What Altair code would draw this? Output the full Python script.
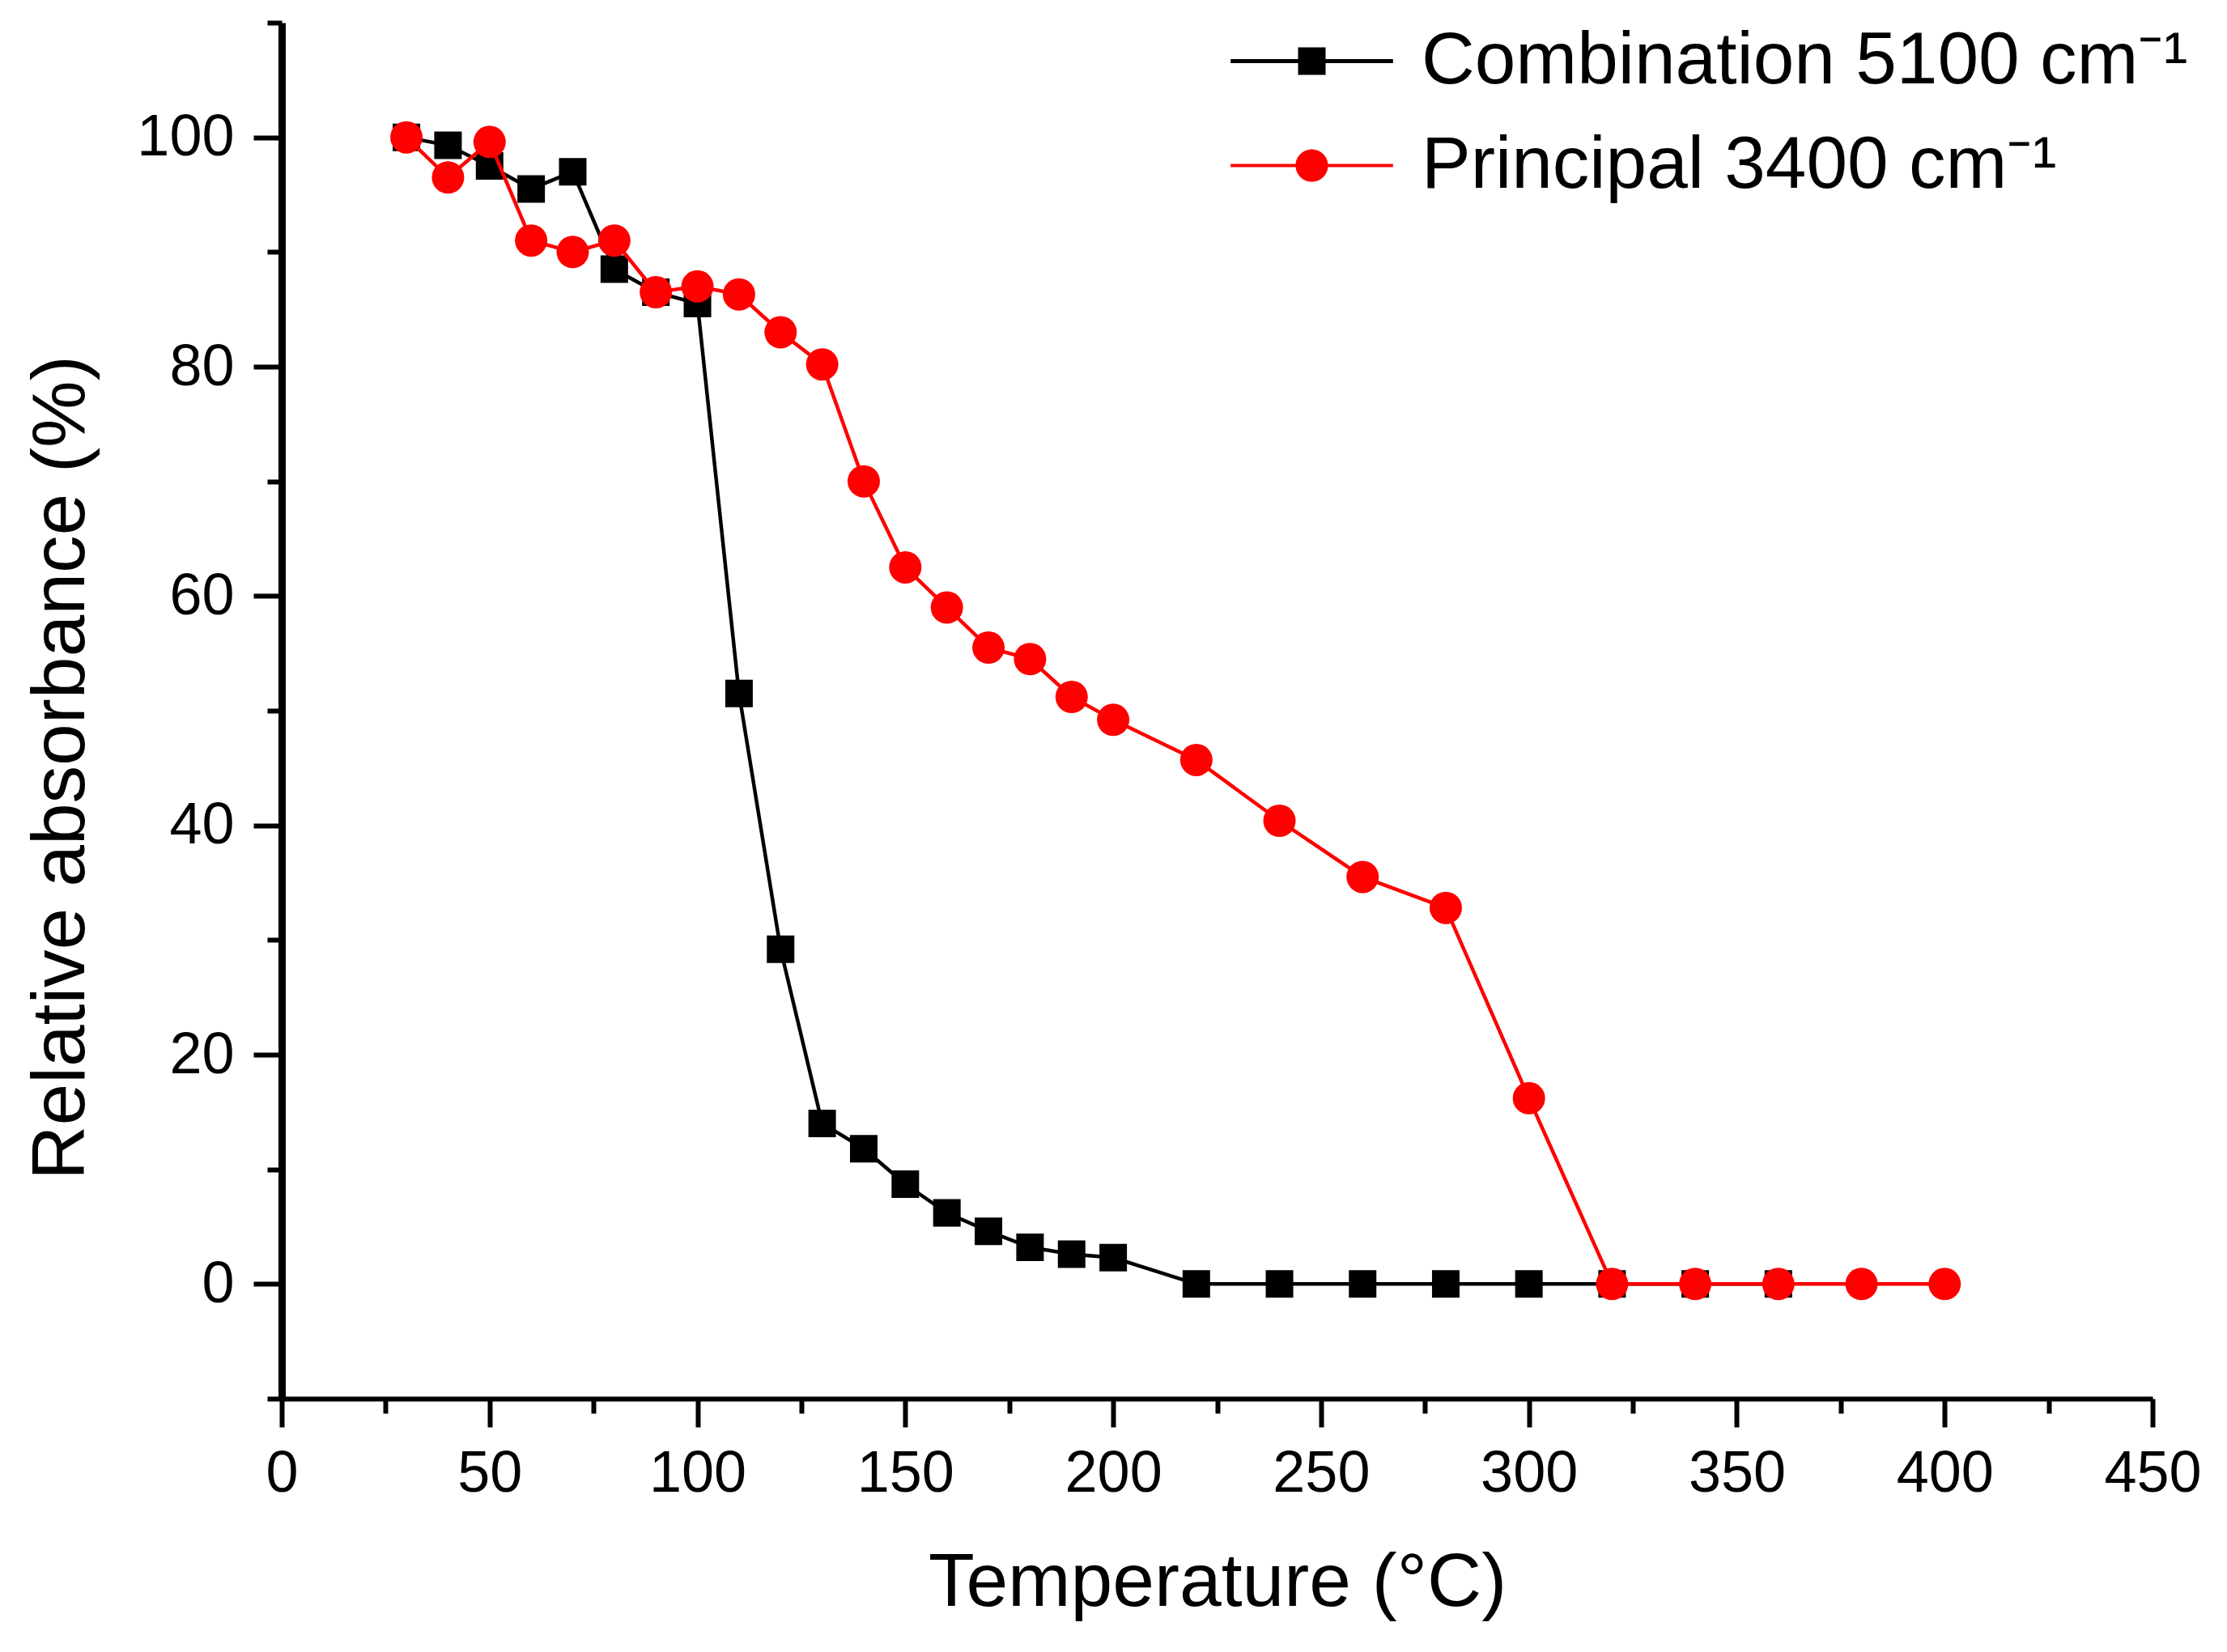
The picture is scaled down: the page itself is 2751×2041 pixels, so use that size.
import altair as alt
import pandas as pd

COMB_LABEL = "Combination 5100 cm⁻¹"
PRIN_LABEL = "Principal 3400 cm⁻¹"

# values (temperature in °C, relative absorbance in %)
comb_temp = [30, 40, 50, 60, 70, 80, 90, 100, 110, 120, 130, 140, 150, 160, 170,
             180, 190, 200, 220, 240, 260, 280, 300, 320, 340, 360]
comb_abs = [100, 99.3, 97.5, 95.5, 97, 88.5, 86.5, 85.5, 51.5, 29.2, 14, 11.8, 8.7, 6.2, 4.6,
            3.2, 2.6, 2.3, 0, 0, 0, 0, 0, 0, 0, 0]

prin_temp = [30, 40, 50, 60, 70, 80, 90, 100, 110, 120, 130, 140, 150, 160, 170,
             180, 190, 200, 220, 240, 260, 280, 300, 320, 340, 360, 380, 400]
prin_abs = [100, 96.5, 99.6, 91, 90, 91, 86.5, 87, 86.3, 83, 80.2, 70, 62.5, 59, 55.5,
            54.5, 51.2, 49.2, 45.7, 40.4, 35.5, 32.8, 16.2, 0, 0, 0, 0, 0]

SERIES = [COMB_LABEL, PRIN_LABEL]
COLORS = ["#000000", "#ff0000"]

x_ticks = list(range(0, 451, 25))
y_ticks = list(range(-10, 111, 10))

FONT = "Liberation Sans"
W, H = 2311, 1700

# legend keys: a line with the marker in the middle
SQUARE_KEY = "M-5.9,-0.14H5.9V0.14H-5.9Z M-1,-1H1V1H-1Z"
CIRCLE_KEY = ("M-5.9,-0.12H5.9V0.12H-5.9Z "
              "M-1.18,0A1.18,1.18,0,1,1,1.18,0A1.18,1.18,0,1,1,-1.18,0Z")

data = pd.concat(
    [
        pd.DataFrame({"series": COMB_LABEL, "temp": comb_temp, "absorb": comb_abs}),
        pd.DataFrame({"series": PRIN_LABEL, "temp": prin_temp, "absorb": prin_abs}),
    ],
    ignore_index=True,
)

legend = alt.Legend(
    title=None,
    orient="none",
    legendX=1227,
    legendY=2,
    padding=0,
    labelFont=FONT,
    labelFontSize=91,
    labelColor="#000000",
    labelOffset=90,
    labelLimit=3000,
    rowPadding=37,
    symbolSize=1156,
    symbolStrokeWidth=0,
    symbolOpacity=1,
)

x_enc = alt.X(
    "temp:Q",
    title="Temperature (°C)",
    scale=alt.Scale(domain=[0, 450], nice=False, zero=False),
    axis=alt.Axis(
        values=x_ticks,
        format="d",
        labelExpr="datum.value % 50 === 0 ? datum.label : ''",
        tickSize={"condition": {"test": "datum.value % 50 === 0", "value": 35}, "value": 18},
        labelPadding=22,
        titlePadding=54,
        labelOverlap=False,
        labelFlush=False,
        domainWidth=6,
    ),
)
y_enc = alt.Y(
    "absorb:Q",
    title="Relative absorbance (%)",
    scale=alt.Scale(domain=[-10, 110], nice=False, zero=False),
    axis=alt.Axis(
        values=y_ticks,
        format="d",
        labelExpr="datum.value % 20 === 0 && datum.value >= 0 && datum.value <= 100 ? datum.label : ''",
        labelFontSize={"condition": {"test": "datum.value % 20 !== 0", "value": 0}, "value": 72},
        tickSize={"condition": {"test": "datum.value % 20 === 0", "value": 35}, "value": 18},
        labelPadding=24,
        titlePadding=45,
        titleY=920,
        labelOverlap=False,
        labelFlush=False,
        domainWidth=9,
    ),
)

base = alt.Chart(data)


def series_layers(name, color, shape, size):
    sub = base.transform_filter(alt.datum.series == name)
    line = sub.mark_line(color=color, strokeWidth=4.5).encode(x=x_enc, y=y_enc, order="temp:Q")
    pts = sub.mark_point(color=color, shape=shape, size=size, filled=True, opacity=1).encode(
        x=x_enc, y=y_enc
    )
    return [line, pts]


# empty layer that only carries the legend (line-through-marker keys)
legend_layer = base.transform_filter("false").mark_point(filled=True, opacity=1, size=1156).encode(
    x=x_enc,
    y=y_enc,
    color=alt.Color("series:N", scale=alt.Scale(domain=SERIES, range=COLORS), legend=legend),
    shape=alt.Shape("series:N", scale=alt.Scale(domain=SERIES, range=[SQUARE_KEY, CIRCLE_KEY]), legend=legend),
)

chart = (
    alt.layer(
        *series_layers(COMB_LABEL, COLORS[0], "square", 1156),
        *series_layers(PRIN_LABEL, COLORS[1], "circle", 1600),
        legend_layer,
    )
    .properties(
        width=W,
        height=H,
        padding={"left": 21, "top": 17, "right": 10, "bottom": 10},
        background="#ffffff",
    )
    .configure_view(strokeWidth=0)
    .configure_axis(
        grid=False,
        domainColor="#000000",
        tickColor="#000000",
        tickWidth=6,
        labelFont=FONT,
        labelFontSize=72,
        labelColor="#000000",
        titleFont=FONT,
        titleFontSize=93,
        titleFontWeight="normal",
        titleColor="#000000",
    )
)

chart.save("out.html", embed_options={"renderer": "svg", "actions": False})
